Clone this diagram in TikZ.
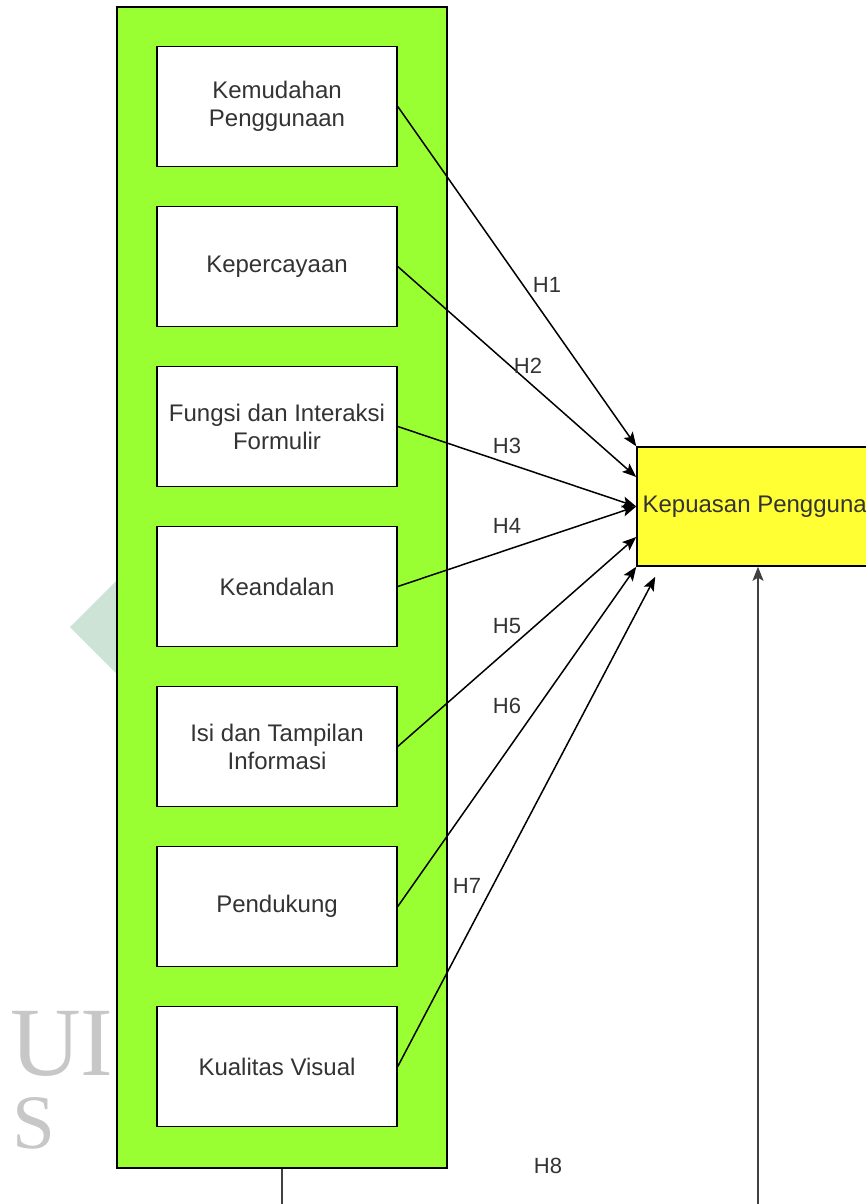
\documentclass[tikz,border=0pt]{standalone}
\usepackage{fontspec}
\setmainfont{Liberation Sans}
\newfontfamily\markfont{Liberation Serif}
\usetikzlibrary{arrows.meta,positioning}
\definecolor{panelgreen}{HTML}{99FF33}
\definecolor{targetyellow}{HTML}{FFFF33}
\definecolor{markgreen}{HTML}{CDE3D6}
\begin{document}
\begin{tikzpicture}[x=1pt,y=-1pt,font=\fontsize{24}{28}\selectfont]
       \tikzstyle{varbox}=[draw, fill=white, line width=1.5pt, minimum width=240pt, minimum height=120pt, align=center, text=black!80, inner sep=2pt]
       \tikzstyle{arr}=[draw, line width=1.5pt, -{Stealth[length=14pt,width=11pt,inset=3pt]}]
       \tikzstyle{hlabel}=[font=\fontsize{22}{26}\selectfont, text=black!80, inner sep=0pt]
       \tikzstyle{markletter}=[anchor=base west, text=black!22, inner sep=0pt]
       \useasboundingbox (0,0) rectangle (865,1204);
       % watermark
       \fill[markgreen] (70,627) -- (140,557) -- (210,627) -- (140,697) -- cycle;
       \node[markletter, font=\markfont\fontsize{98}{98}\selectfont] (markui) at (10,1075) {UI};
       \node[markletter, font=\markfont\fontsize{77}{77}\selectfont] (marks) at (12,1148) {S};
       % panel of variables
       \node[draw, fill=panelgreen, line width=1.5pt, minimum width=330pt, minimum height=1161pt] (panel) at (282,587.5) {};
       \node[varbox] (k1) at (277,106.5) {Kemudahan\\Penggunaan};
       \node[varbox, below=38.5pt of k1] (k2) {Kepercayaan};
       \node[varbox, below=38.5pt of k2] (k3) {Fungsi dan Interaksi\\Formulir};
       \node[varbox, below=38.5pt of k3] (k4) {Keandalan};
       \node[varbox, below=38.5pt of k4] (k5) {Isi dan Tampilan\\Informasi};
       \node[varbox, below=38.5pt of k5] (k6) {Pendukung};
       \node[varbox, below=38.5pt of k6] (k7) {Kualitas Visual};
       % dependent variable
       \node[draw, fill=targetyellow, line width=1.5pt, minimum width=262pt, minimum height=119pt, inner sep=2pt, text=black!80] (kepuasan) at (768,506.5) {Kepuasan Penggunaan};
       % hypotheses
       \draw[arr] (k1.east) -- (kepuasan.north west);
       \draw[arr] (k2.east) -- ([yshift=29.5pt]kepuasan.west);
       \draw[arr] (k3.east) -- (kepuasan.west);
       \draw[arr] (k4.east) -- (kepuasan.west);
       \draw[arr] (k5.east) -- ([yshift=-30.5pt]kepuasan.west);
       \draw[arr] (k6.east) -- (kepuasan.south west);
       \draw[arr] (k7.east) -- ([xshift=19pt,yshift=-10pt]kepuasan.south west);
       \draw[arr, draw=black!75] (panel.south) -- ++(0,62) -| ([xshift=-10pt]kepuasan.south);
       \node[hlabel] (h1) at (547,285) {H1};
       \node[hlabel] (h2) at (528,366) {H2};
       \node[hlabel] (h3) at (507,446) {H3};
       \node[hlabel] (h4) at (507,526) {H4};
       \node[hlabel] (h5) at (507,626) {H5};
       \node[hlabel] (h6) at (507,706) {H6};
       \node[hlabel] (h7) at (467,886) {H7};
       \node[hlabel] (h8) at (548,1166) {H8};
      \end{tikzpicture}
\end{document}
